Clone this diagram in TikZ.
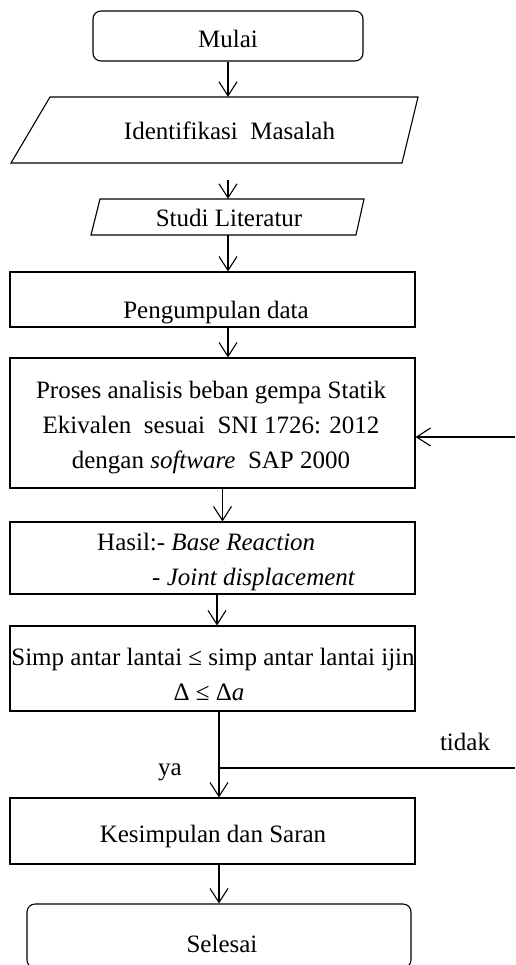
\documentclass[tikz,border=0pt]{standalone}
\usepackage{fontspec}
\setmainfont{Liberation Serif}
\usetikzlibrary{positioning, arrows.meta, calc}

\begin{document}
\begin{tikzpicture}[
    x=1pt, y=-1pt,
    % Plain flowchart styles
    procbox/.style={
        rectangle,
        draw=black,
        line width=1.1pt,
        inner sep=0pt
    },
    termbox/.style={
        procbox,
        rounded corners=8pt
    },
    ghost/.style={
        rectangle,
        inner sep=0pt
    },
    txt/.style={
        font=\fontsize{25}{35}\selectfont,
        inner sep=0pt,
        anchor=base
    },
    arr/.style={
        -{Straight Barb[length=14pt,width=18pt]},
        line width=1.1pt
    },
    line/.style={
        line width=1.1pt
    }
]
\clip (0,0) rectangle (515,965);

% === Start ===
\node[termbox, minimum width=270pt, minimum height=50pt] (mulai) at (228,36) {};
\node[txt] (mulai-t) at (228,48) {Mulai};

% === Input shapes ===
\node[ghost, minimum width=200pt, minimum height=66pt] (ident) at (228,130) {};
\draw[line] (11,163) -- (50,97) -- (418,97) -- (402,163) -- cycle;
\node[txt] (ident-t) at (229.5,140) {Identifikasi\ \ Masalah};

\node[ghost, minimum width=200pt, minimum height=36pt] (studi) at (228,217) {};
\draw[line] (91,235) -- (100,199) -- (364,199) -- (356,235) -- cycle;
\node[txt] (studi-t) at (229,227) {Studi Literatur};

% === Process boxes ===
\node[procbox, minimum width=405pt, minimum height=55pt] (data) at (212.5,299.5) {};
\node[txt] (data-t) at (216,318) {Pengumpulan data};

\node[procbox, minimum width=405pt, minimum height=130pt] (proses) at (212.5,423) {};
\node[txt, anchor=center, align=center] (proses-t) at (211,428)
    {Proses analisis beban gempa Statik\\
     Ekivalen\ \ sesuai\ \ SNI 1726: 2012\\
     dengan \textit{software}\ \ SAP 2000};

\node[procbox, minimum width=405pt, minimum height=72pt] (hasil) at (212.5,558) {};
\node[txt, anchor=base west] (hasil-t1) at (97,550) {Hasil:- \textit{Base Reaction}};
\node[txt, anchor=base west] (hasil-t2) at (152,585) {- \textit{Joint displacement}};

\node[procbox, minimum width=405pt, minimum height=85pt] (simp) at (212.5,668.5) {};
\node[txt] (simp-t1) at (213,665) {Simp antar lantai ≤ simp antar lantai ijin};
\node[txt] (simp-t2) at (209,700) {Δ ≤ Δ\textit{a}};

\node[procbox, minimum width=405pt, minimum height=66pt] (kesimpulan) at (212.5,831) {};
\node[txt] (kesimpulan-t) at (213,842) {Kesimpulan dan Saran};

% === End ===
\node[termbox, minimum width=384pt, minimum height=64pt] (selesai) at (219,936) {};
\node[txt] (selesai-t) at (222,952) {Selesai};

% === Arrows ===
\draw[arr] (mulai.south) -- (ident.north);
\draw[arr, shorten <=17pt] (ident.south) -- (studi.north);
\draw[arr] (studi.south) -- (studi.south |- data.north);
\draw[arr] (studi.south |- data.south) -- (studi.south |- proses.north);
\draw[arr] ([xshift=10pt]proses.south) -- ([xshift=10pt]hasil.north);
\draw[arr] ([xshift=4.5pt]hasil.south) -- ([xshift=4.5pt]simp.north);
\draw[arr] ([xshift=6.5pt]simp.south) -- ([xshift=6.5pt]kesimpulan.north);
\draw[arr] ([xshift=6.5pt]kesimpulan.south) -- (selesai.north);

% === Loop back ===
\coordinate (back) at (515,437);
\draw[arr] (back) -- (back -| proses.east);
\coordinate (join) at (219,768);
\coordinate (tidak-end) at (515,768);
\draw[line] (join) -- (tidak-end);

% === Labels ===
\node[txt] (tidak) at (465,750) {tidak};
\node[txt] (ya) at (170,775) {ya};

\end{tikzpicture}
\end{document}
